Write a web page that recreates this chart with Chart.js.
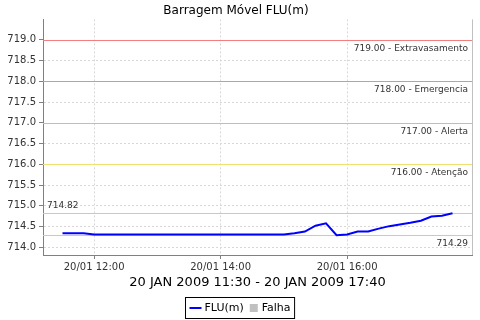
<!DOCTYPE html>
<html>
<head>
<meta charset="utf-8">
<script src="https://cdn.jsdelivr.net/npm/chart.js@4/dist/chart.umd.min.js"></script>
<style>
  html, body { margin: 0; padding: 0; background: #fff; }
  #wrap { width: 480px; height: 320px; }
</style>
</head>
<body>
<div id="wrap"><canvas id="chart"></canvas></div>
<script>
// readings every 10 minutes, 20 JAN 2009
const times = ['11:30','11:40','11:50','12:00','12:10','12:20','12:30','12:40','12:50','13:00',
  '13:10','13:20','13:30','13:40','13:50','14:00','14:10','14:20','14:30','14:40',
  '14:50','15:00','15:10','15:20','15:30','15:40','15:50','16:00','16:10','16:20',
  '16:30','16:40','16:50','17:00','17:10','17:20','17:30','17:40'];
const levels = [714.34,714.34,714.34,714.31,714.31,714.31,714.31,714.31,714.31,714.31,
  714.31,714.31,714.31,714.31,714.31,714.31,714.31,714.31,714.31,714.31,
  714.31,714.31,714.34,714.38,714.52,714.58,714.29,714.31,714.38,714.38,
  714.45,714.51,714.55,714.59,714.64,714.74,714.76,714.82];
const yTicks = [714.0,714.5,715.0,715.5,716.0,716.5,717.0,717.5,718.0,718.5,719.0];
const xTicks = ['12:00','14:00','16:00'];
const alertLevels = [719, 718, 717, 716];
const alertNames = ['Extravasamento','Emergencia','Alerta','Atenção'];

const alertColors = ['#f08080','#e080f0','#f8b070','#f0e070'];
const FONT = 'DejaVu Sans';

const toMin = t => { const [h, m] = t.split(':').map(Number); return h * 60 + m; };
const pad = n => String(n).padStart(2, '0');
const fmtTime = v => pad(Math.floor(v / 60)) + ':' + pad(Math.round(v % 60));

const first = toMin(times[0]), last = toMin(times[times.length - 1]);
const margin = (last - first) * 0.05;

const hLine = (ctx, area, y, color) => {
  const py = Math.round(y) + 0.5;
  ctx.setLineDash([]);
  ctx.strokeStyle = color;
  ctx.lineWidth = 1;
  ctx.beginPath();
  ctx.moveTo(area.left, py);
  ctx.lineTo(area.right, py);
  ctx.stroke();
};

const markers = {
  id: 'markers',
  beforeDatasetsDraw(chart) {
    const {ctx, chartArea: a, scales: {y}} = chart;
    ctx.save();
    alertLevels.forEach((v, i) => hLine(ctx, a, y.getPixelForValue(v), alertColors[i]));
    hLine(ctx, a, y.getPixelForValue(Math.max(...levels)), '#c8c8c8');
    hLine(ctx, a, y.getPixelForValue(Math.min(...levels)), '#c8c8c8');
    // right border
    ctx.strokeStyle = '#c0c0c0';
    ctx.beginPath();
    ctx.moveTo(Math.round(a.right) + 0.5, a.top);
    ctx.lineTo(Math.round(a.right) + 0.5, a.bottom);
    ctx.stroke();
    ctx.restore();
  },
  afterDatasetsDraw(chart) {
    const {ctx, chartArea: a, scales: {y}} = chart;
    ctx.save();
    ctx.font = '9px "' + FONT + '"';
    ctx.fillStyle = '#333';
    ctx.textAlign = 'right';
    ctx.textBaseline = 'top';
    alertLevels.forEach((v, i) => {
      ctx.fillText(v.toFixed(2) + ' - ' + alertNames[i], a.right - 4, y.getPixelForValue(v) + 4);
    });
    const mx = Math.max(...levels), mn = Math.min(...levels);
    ctx.fillText(mn.toFixed(2), a.right - 4, y.getPixelForValue(mn) + 4);
    ctx.textAlign = 'left';
    ctx.textBaseline = 'bottom';
    ctx.fillText(mx.toFixed(2), a.left + 4, y.getPixelForValue(mx) - 3);
    ctx.restore();
  }
};

const legendBox = {
  id: 'legendBox',
  afterDraw(chart) {
    const ctx = chart.ctx;
    ctx.save();
    ctx.setLineDash([]);
    ctx.font = '11px "' + FONT + '"';
    const w1 = ctx.measureText('FLU(m)').width, w2 = ctx.measureText('Falha').width;
    const total = 4 + 12 + 3 + w1 + 6 + 8 + 4 + w2 + 4;
    const x0 = Math.round(chart.width / 2 - total / 2) + 0.5;
    const top = 297.5, h = 21, cy = 308;
    ctx.fillStyle = '#fff';
    ctx.fillRect(x0, top, total, h);
    ctx.strokeStyle = '#000';
    ctx.lineWidth = 1;
    ctx.strokeRect(x0, top, total, h);
    let x = x0 + 4;
    ctx.strokeStyle = '#0000ff';
    ctx.lineWidth = 2;
    ctx.beginPath(); ctx.moveTo(x, cy); ctx.lineTo(x + 12, cy); ctx.stroke();
    x += 15;
    ctx.fillStyle = '#000';
    ctx.textBaseline = 'middle';
    ctx.fillText('FLU(m)', x, cy);
    x += w1 + 6;
    ctx.fillStyle = '#c0c0c0';
    ctx.fillRect(x, cy - 4, 8, 8);
    x += 12;
    ctx.fillStyle = '#000';
    ctx.fillText('Falha', x, cy);
    ctx.restore();
  }
};

Chart.defaults.font.family = FONT;

// no dashed grid line where a solid alert line sits
const gridColor = c => (c.tick && alertLevels.includes(c.tick.value)) ? 'rgba(0,0,0,0)' : '#d8d8d8';

new Chart(document.getElementById('chart'), {
  type: 'line',
  data: {
    datasets: [{
      label: 'FLU(m)',
      data: times.map((t, i) => ({x: toMin(t), y: levels[i]})),
      borderColor: '#0000ff',
      borderWidth: 2,
      pointRadius: 0,
      tension: 0,
      fill: false
    }]
  },
  options: {
    responsive: true,
    maintainAspectRatio: false,
    animation: false,
    layout: {padding: {left: 0, right: 8, top: 0, bottom: 29}},
    plugins: {
      legend: {display: false},
      tooltip: {enabled: false},
      title: {
        display: true,
        text: 'Barragem Móvel FLU(m)',
        color: '#000',
        font: {size: 12, weight: 'normal'},
        padding: {top: 4, bottom: 1}
      }
    },
    scales: {
      x: {
        type: 'linear',
        min: first - margin,
        max: last + margin,
        afterBuildTicks: s => { s.ticks = xTicks.map(t => ({value: toMin(t)})); },
        afterFit: s => { s.height = 36; },
        ticks: {
          color: '#333',
          font: {size: 10},
          padding: 2,
          maxRotation: 0,
          callback: v => '20/01 ' + fmtTime(v)
        },
        grid: {color: '#d8d8d8', tickColor: '#808080', tickLength: 4, tickBorderDash: []},
        border: {color: '#808080', width: 1, dash: [2, 2]},
        title: {
          display: true,
          text: '20 JAN 2009 ' + times[0] + ' - 20 JAN 2009 ' + times[times.length - 1],
          color: '#000',
          font: {size: 13},
          padding: {top: 0, bottom: 1}
        }
      },
      y: {
        min: 713.815,
        max: 719.49,
        afterBuildTicks: s => { s.ticks = yTicks.map(v => ({value: v})); },
        afterFit: s => { s.width = 43; },
        ticks: {
          color: '#333',
          font: {size: 10},
          padding: 3,
          callback: v => v.toFixed(1)
        },
        grid: {color: gridColor, tickColor: '#808080', tickLength: 4, tickBorderDash: []},
        border: {color: '#808080', width: 1, dash: [2, 2]}
      }
    }
  },
  plugins: [markers, legendBox]
});
</script>
</body>
</html>
